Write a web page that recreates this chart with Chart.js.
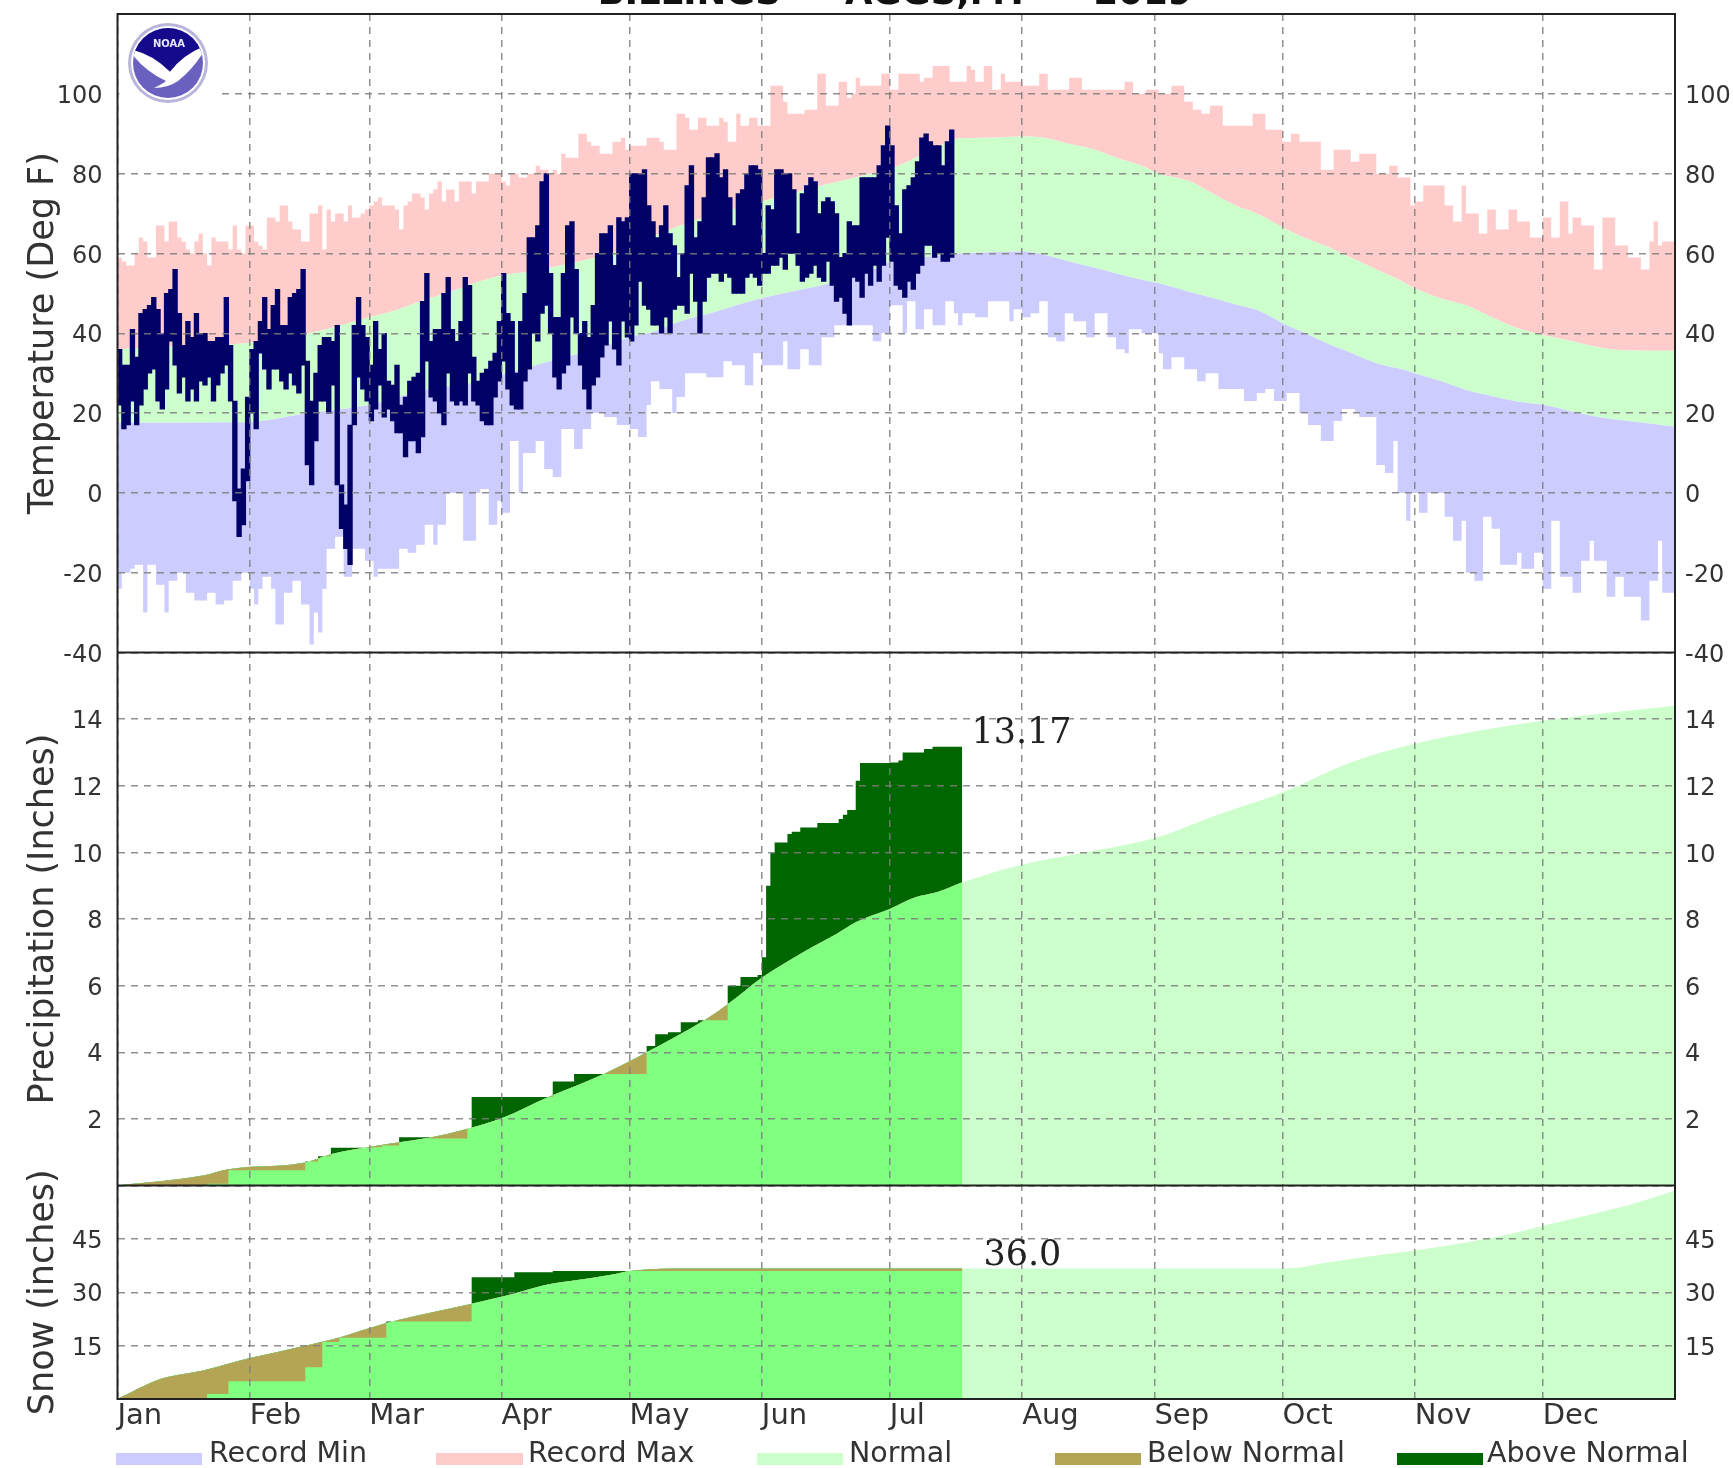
<!DOCTYPE html>
<html><head><meta charset="utf-8">
<style>html,body{margin:0;padding:0;background:#fff;overflow:hidden}canvas{display:block}</style>
<script src="https://cdn.jsdelivr.net/npm/chart.js@4"></script>
</head><body>
<canvas id="c" width="1733" height="1468"></canvas>
<script>
const chartTitle = "BILLINGS  -  AGGS,MT  -  2019";
const monthNames = ["Jan","Feb","Mar","Apr","May","Jun","Jul","Aug","Sep","Oct","Nov","Dec"];
const monthStarts = [0,31,59,90,120,151,181,212,243,273,304,334];
const legendLabels = ["Record Min","Record Max","Normal","Below Normal","Above Normal"];

const recordMax = [59,58,57,57,60,64,63,59,59,67,
67,63,68,68,64,63,61,60,63,65,
60,57,64,63,63,63,61,67,61,60,
67,67,63,62,61,69,69,68,72,72,
68,66,66,63,63,70,70,72,61,71,
68,70,70,68,72,69,69,70,71,72,
73,74,72,72,72,71,66,72,73,75,
75,74,71,75,76,78,73,76,76,73,
78,78,78,75,78,78,78,80,80,80,
78,77,80,80,79,79,80,80,82,81,
81,80,81,80,85,84,84,84,90,90,
88,87,87,85,85,85,88,88,89,86,
87,87,87,87,89,89,89,88,86,86,
86,95,95,94,91,91,94,94,92,92,
92,94,93,88,88,95,92,92,94,94,
92,92,92,102,102,102,98,95,95,95,
95,96,96,96,105,105,97,97,97,103,
103,99,100,104,102,102,102,102,102,105,
105,101,101,105,105,105,105,105,103,104,
104,107,107,107,107,103,103,103,103,107,
106,103,103,107,107,101,101,105,103,103,
103,103,102,102,102,102,105,105,101,101,
101,101,101,104,104,104,101,101,101,101,
101,101,101,101,101,101,103,103,100,100,
100,101,101,101,100,100,100,102,102,102,
98,98,96,96,95,95,97,97,97,92,
92,92,92,92,92,92,95,95,95,91,
91,91,91,88,88,90,90,88,88,88,
88,88,81,81,81,86,86,86,86,83,
83,85,85,85,85,80,80,80,82,82,
79,79,79,72,73,73,77,77,77,77,
77,72,72,68,68,77,70,70,70,65,
65,71,71,66,66,66,71,71,68,68,
68,64,64,64,69,69,64,64,73,73,
65,69,69,67,67,67,56,56,69,69,
69,62,62,62,59,59,59,56,56,63,
68,62,63,63,63];

const recordMin = [-24,-20,-20,-19,-18,-18,-30,-18,-18,-23,
-23,-30,-22,-22,-20,-20,-25,-25,-27,-27,
-27,-25,-25,-28,-28,-27,-27,-22,-22,-20,
-20,-24,-28,-24,-21,-21,-24,-33,-33,-25,
-25,-22,-22,-28,-28,-38,-30,-35,-24,-14,
-14,-11,-11,-21,-21,-14,-14,-14,-17,-17,
-21,-19,-19,-19,-19,-19,-14,-14,-15,-15,
-13,-13,-8,-8,-13,-8,-8,0,0,0,
0,-12,-12,-12,0,1,1,-8,-8,-2,
-5,-5,13,13,0,10,10,10,13,13,
6,6,4,4,16,16,16,11,11,16,
16,20,20,20,19,19,19,17,17,17,
16,16,14,14,22,28,28,26,26,26,
20,24,24,30,30,30,30,30,29,29,
29,29,33,33,32,32,32,27,27,35,
35,32,32,32,32,32,38,31,31,31,
36,36,32,32,32,39,39,39,42,42,
42,42,42,42,42,42,42,38,38,40,
40,47,47,47,40,48,48,41,41,46,
46,42,42,42,48,48,45,42,45,45,
45,44,44,44,48,48,48,48,48,43,
46,46,44,44,45,45,48,48,39,39,
38,38,45,45,43,43,43,39,39,45,
45,45,39,39,36,36,35,41,41,41,
40,40,40,40,35,31,31,34,34,34,
31,31,31,28,28,30,30,30,26,26,
26,26,26,26,23,23,23,25,25,26,
26,23,23,23,25,25,25,20,20,17,
17,17,13,13,13,18,18,21,21,21,
20,19,19,19,19,7,7,5,5,13,
0,0,-7,0,0,-5,-5,0,0,0,
0,-6,-6,-12,-12,-7,-20,-20,-22,-22,
-6,-6,-9,-9,-18,-18,-18,-18,-15,-19,
-19,-19,-15,-15,-24,-24,-7,-7,-21,-21,
-21,-25,-25,-17,-17,-12,-17,-17,-17,-26,
-26,-21,-21,-26,-26,-26,-26,-32,-32,-22,
-22,-12,-25,-25,-25];

const observedHigh = [36,32,32,41,34,45,46,47,49,46,
40,50,51,56,45,37,43,39,45,40,
40,38,38,39,39,49,37,23,1,6,
24,36,38,43,49,41,47,51,42,42,
49,50,51,56,33,23,30,37,39,39,
38,42,2,-3,17,42,49,42,39,32,
43,36,40,28,27,32,22,24,28,29,
30,48,55,38,41,41,50,54,41,38,
43,54,52,34,28,30,31,33,35,43,
55,45,43,30,43,50,64,64,67,78,
80,55,44,44,55,67,68,56,40,43,
39,47,60,65,65,67,57,69,68,69,
80,80,80,81,72,68,64,67,72,65,
62,54,60,77,82,64,68,74,84,84,
85,79,81,74,67,75,76,80,82,82,
81,60,72,71,81,81,80,80,76,65,
75,77,79,78,70,73,74,73,70,59,
60,68,67,67,79,79,79,79,82,87,
92,87,72,65,76,77,79,83,89,90,
88,87,87,82,88,91];

const observedLow = [22,16,17,23,17,22,26,30,31,23,
21,26,38,32,25,29,23,26,23,28,
27,29,23,27,30,32,23,-2,-11,-8,
3,20,16,35,31,26,31,31,28,26,
30,27,25,32,7,2,13,23,23,20,
27,2,-9,-14,-18,17,29,26,23,18,
21,27,19,21,18,15,15,9,13,13,
10,14,33,24,23,20,17,30,23,22,
23,22,30,23,22,18,17,17,24,28,
33,26,22,21,21,28,31,40,38,45,
47,40,29,26,30,32,44,40,32,26,
21,27,29,34,37,43,36,32,43,39,
38,42,53,47,46,42,42,40,44,40,
46,47,47,45,55,48,40,48,54,55,
55,53,55,54,50,50,50,54,55,54,
52,55,55,57,57,59,56,60,60,57,
53,54,55,57,54,53,58,52,48,49,
45,42,54,53,49,55,52,57,53,57,
64,58,52,51,49,53,51,55,57,62,
62,59,60,58,58,59];

const normalTempDays = [0,15,30,45,59,66,71,77,85,90,97,105,112,120,126,132,139,150,158,165,175,183,190,197,205,212,217,223,229,234,240,244,251,256,262,267,274,278,284,287,295,300,304,311,316,322,328,335,341,347,354,365];
const normalHigh = [36,36.8,37.5,40,44,46,48,50,53,54.5,55.5,57.2,59,61.5,64.5,67,69.5,72.7,75,77,79.6,82,85.5,88.8,89,89.3,89,87.4,86,84,82,80,78.2,75.4,72,70,66,64,61.5,60,56,53.6,51.3,48.4,47,44,41.3,39.3,38,36.5,35.7,35.6];
const normalLow = [17.6,17.6,17.7,20,22,24,25.5,26.5,28,29.5,31.7,34,36,39,40.5,43,45,48.5,50.4,52,55,58.6,59.2,60,60.3,60.5,59.7,58,56.4,55,53.4,52.5,50.4,49,47.2,45.8,42,40.2,37.2,36,32.5,31.2,30,27.7,25.8,24.3,22.9,21.9,20.3,19,18,16.6];

const normalPrecipDays = [0,20,26,44,50,60,73,82,90,101,114,124,138,143,151,158,162,168.5,173,181,187,192,198,212,226,243,258,273,289,304,334,365];
const normalPrecip = [0,0.3,0.49,0.69,0.94,1.18,1.43,1.7,2.02,2.66,3.35,4.0,5,5.44,6.24,6.8,7.1,7.55,7.9,8.3,8.65,8.8,9.1,9.63,9.98,10.43,11.14,11.8,12.7,13.26,13.95,14.4];
const observedPrecipDays = [0,21,26,44,47,50,60,62,66,73,82,83,102,107,124,126,129,132,136,143,146,150,151,152,153,154,157,158,160,164,169,170,171,173,174,181,183,184,189,191,198];
const observedPrecip = [0,0.05,0.46,0.72,0.88,1.13,1.15,1.2,1.45,1.41,1.72,2.66,3.12,3.35,4.19,4.54,4.6,4.9,4.96,6.0,6.26,6.32,6.85,9.0,10,10.3,10.55,10.62,10.75,10.88,11,11.13,11.27,12.15,12.68,12.7,12.76,13,13.1,13.17,13.17];
const precipTotalLabel = "13.17";

const normalSnowDays = [0,10,20,31,44,52,62,70,82,91,100,107,116,120,135,198,274,284,295,304,316,325,334,344,355,365];
const normalSnow = [0,5.6,8,11.5,15,17.3,21,23.4,26.5,29,32,33.3,35,36,36.7,36.7,36.7,38.4,40.3,41.7,44,46,48.7,51.5,54.8,58.6];
const observedSnowDays = [0,21,26,44,48,52,63,83,93,102,198];
const observedSnow = [0,1.4,5,8.9,16,17.2,21.8,34.2,35.6,36,36];
const snowTotalLabel = "36.0";

const LAV="#ccccff",PINK="#ffcccc",LGREEN="#ccffcc",BGREEN="#80ff80",TAN="#b3a555",DGREEN="#006600",NAVY="#000066";
const lastTempDay = 365, dateEnd = 198;
const xy=(xs,ys)=>xs.map((x,i)=>({x,y:ys[i]}));
const daily=a=>a.map((y,x)=>({x,y})).concat([{x:lastTempDay,y:a[a.length-1]}]);
const dsBase={pointRadius:0,borderWidth:0,pointHitRadius:0,tension:0};
const smooth={cubicInterpolationMode:"monotone"};

const datasets=[
 {...dsBase,type:"bar",label:"Observed",yAxisID:"yT",order:0,backgroundColor:NAVY,barThickness:4.7,grouped:false,
  data:observedHigh.map((h,i)=>({x:i+0.5,y:[observedLow[i],h]}))},
 {...dsBase,label:legendLabels[1],yAxisID:"yT",order:30,stepped:true,data:daily(recordMax),fill:{target:2},backgroundColor:PINK},
 {...dsBase,...smooth,label:legendLabels[2],yAxisID:"yT",order:29,data:xy(normalTempDays,normalHigh),fill:{target:3},backgroundColor:LGREEN},
 {...dsBase,...smooth,label:"Normal Low",yAxisID:"yT",order:28,data:xy(normalTempDays,normalLow),fill:{target:4},backgroundColor:LAV},
 {...dsBase,label:legendLabels[0],yAxisID:"yT",order:27,stepped:true,data:daily(recordMin),fill:false},
 {...dsBase,...smooth,label:"Normal Precip",yAxisID:"yP",order:26,data:xy(normalPrecipDays,normalPrecip),fill:"origin",backgroundColor:LGREEN},
 {...dsBase,...smooth,label:"Normal Precip To Date",yAxisID:"yP",order:25,data:xy(normalPrecipDays,normalPrecip).filter(p=>p.x<=dateEnd),fill:"origin",backgroundColor:BGREEN},
 {...dsBase,label:"Observed Precip",yAxisID:"yP",order:24,stepped:true,data:xy(observedPrecipDays,observedPrecip),fill:{target:6,above:DGREEN,below:TAN}},
 {...dsBase,...smooth,label:"Normal Snow",yAxisID:"yS",order:23,data:xy(normalSnowDays,normalSnow),fill:"origin",backgroundColor:LGREEN},
 {...dsBase,...smooth,label:"Normal Snow To Date",yAxisID:"yS",order:22,data:xy(normalSnowDays,normalSnow).filter(p=>p.x<=dateEnd),fill:"origin",backgroundColor:BGREEN},
 {...dsBase,label:"Observed Snow",yAxisID:"yS",order:21,stepped:true,data:xy(observedSnowDays,observedSnow),fill:{target:9,above:DGREEN,below:TAN}}
];

const TXT="#333";
const tickFont={family:"'DejaVu Sans'",size:24};
const titleFont={family:"'DejaVu Sans'",size:35};
const gridCol="rgba(125,125,125,0.85)";
const hideEnds=(lo,hi)=>(v)=>(v===lo||v===hi)?"":String(v);
function leftAxis(min,max,step,weight,stackWeight,title,labelHide){
 return {type:"linear",position:"left",stack:"L",stackWeight,weight,min,max,
  afterFit:s=>{s.width=117.5;s.paddingTop=0;s.paddingBottom=0;},
  ticks:{stepSize:step,autoSkip:false,padding:15,labelOffset:3,color:TXT,font:tickFont,callback:labelHide},
  grid:{z:1,color:gridCol,lineWidth:1.5,drawTicks:false,tickLength:0},
  border:{display:false,dash:[7,6]},
  title:{display:true,text:title,color:TXT,font:titleFont,padding:{top:23,bottom:0}}};
}
function rightAxis(min,max,step,weight,stackWeight,labelHide){
 return {type:"linear",position:"right",stack:"R",stackWeight,weight,min,max,
  afterFit:s=>{s.width=58;s.paddingTop=0;s.paddingBottom=0;},
  ticks:{stepSize:step,autoSkip:false,padding:10,labelOffset:3,color:TXT,font:tickFont,callback:labelHide},
  grid:{display:false,drawTicks:false,tickLength:0},
  border:{display:false}};
}

const W={T:638.5,P:533,S:213.5};
const logoAndFrame={
 id:"decor",
 beforeDraw(ch){const c=ch.ctx;c.save();c.fillStyle="#fff";c.fillRect(0,0,ch.width,ch.height);c.restore();},
 afterDraw(ch){
  const c=ch.ctx,a=ch.chartArea,s=ch.scales;
  c.save();
  c.strokeStyle="#222";c.lineWidth=2;
  c.strokeRect(a.left,a.top,a.right-a.left,a.bottom-a.top);
  c.beginPath();
  [s.yT.bottom,s.yP.bottom].forEach(y=>{c.moveTo(a.left,y);c.lineTo(a.right,y);});
  c.stroke();
  c.fillStyle="#111";c.textAlign="center";c.textBaseline="alphabetic";
  c.font="bold 35.5px 'DejaVu Sans'";
  c.fillText(chartTitle,895,4);
  c.font="35px 'DejaVu Serif'";c.textAlign="left";c.fillStyle="#222";
  c.fillText(precipTotalLabel,s.x.getPixelForValue(dateEnd)+9,s.yP.getPixelForValue(parseFloat(precipTotalLabel))-4);
  c.fillText(snowTotalLabel,s.x.getPixelForValue(dateEnd)+21,s.yS.getPixelForValue(parseFloat(snowTotalLabel))-6);
  const sw=[[116,202,LAV,209],[436,523,PINK,528],[757,843,LGREEN,849],[1055,1141,TAN,1147],[1397,1483,DGREEN,1487]];
  c.font="28.5px 'DejaVu Sans'";c.textBaseline="middle";c.fillStyle=TXT;
  sw.forEach((v,i)=>{c.fillStyle=v[2];c.fillRect(v[0],1453,v[1]-v[0],12);c.fillStyle=TXT;c.fillText(legendLabels[i],v[3],1455);});
  const cx=168,cy=63,r=40;
  c.fillStyle="#fff";c.fillRect(a.left+2,a.top+4,98,88);
  c.beginPath();c.arc(cx,cy,r,0,Math.PI*2);c.fillStyle="#b9b6dc";c.fill();
  c.beginPath();c.arc(cx,cy,r-3,0,Math.PI*2);c.fillStyle="#fff";c.fill();
  c.save();c.beginPath();c.arc(cx,cy,r-5,0,Math.PI*2);c.clip();
  c.fillStyle="#6a60c0";c.fillRect(cx-r,cy-r,2*r,2*r);
  c.beginPath();c.moveTo(cx-r,cy-r);c.lineTo(cx+r,cy-r);c.lineTo(cx+r,cy-12);
  c.quadraticCurveTo(cx+14,cy-4,cx+2,cy+8);c.quadraticCurveTo(cx-14,cy-4,cx-r,cy-12);c.closePath();
  c.fillStyle="#160a8c";c.fill();
  c.beginPath();c.moveTo(cx-r,cy-14);c.quadraticCurveTo(cx-16,cy-10,cx+2,cy+9);
  c.quadraticCurveTo(cx+16,cy-10,cx+r,cy-18);c.quadraticCurveTo(cx+26,cy+6,cx+10,cy+18);
  c.quadraticCurveTo(cx,cy+25,cx-14,cy+25);c.quadraticCurveTo(cx-4,cy+20,cx-2,cy+18);
  c.quadraticCurveTo(cx-24,cy+8,cx-r,cy-14);c.closePath();
  c.fillStyle="#fff";c.fill();
  c.restore();
  c.fillStyle="#e8e8ff";c.font="bold 10px 'DejaVu Sans'";c.textAlign="center";c.textBaseline="middle";
  c.fillText("NOAA",cx+1,cy-19);
  c.restore();
 }
};

new Chart(document.getElementById("c"),{
 type:"line",
 data:{datasets},
 plugins:[logoAndFrame],
 options:{
  responsive:false,animation:false,
  layout:{padding:{top:14,left:0,right:0,bottom:0}},
  interaction:{mode:null},
  plugins:{legend:{display:false},tooltip:{enabled:false},title:{display:false},filler:{propagate:false}},
  elements:{line:{borderWidth:0},point:{radius:0}},
  scales:{
   x:{type:"linear",position:"bottom",min:0,max:365,offset:false,
    afterFit:s=>{s.height=69;s.paddingLeft=0;s.paddingRight=0;},
    afterBuildTicks:s=>{s.ticks=monthStarts.map(value=>({value}));},
    ticks:{autoSkip:false,maxRotation:0,minRotation:0,align:"start",padding:0,color:TXT,
      font:{family:"'DejaVu Sans'",size:29},
      callback:v=>monthNames[monthStarts.indexOf(v)]},
    grid:{z:1,offset:false,color:gridCol,lineWidth:1.5,drawTicks:false,tickLength:0},
    border:{display:false,dash:[7,6]}},
   yT:leftAxis(-40,120,20,3,W.T,"Temperature (Deg F)",v=>v===120?"":String(v)),
   yP:leftAxis(0,16,2,2,W.P,"Precipitation (Inches)",hideEnds(0,16)),
   yS:leftAxis(0,60,15,1,W.S,"Snow (inches)",hideEnds(0,60)),
   rT:rightAxis(-40,120,20,1,W.T,v=>v===120?"":String(v)),
   rP:rightAxis(0,16,2,2,W.P,hideEnds(0,16)),
   rS:rightAxis(0,60,15,3,W.S,hideEnds(0,60))
  }
 }
});
</script>
</body></html>
